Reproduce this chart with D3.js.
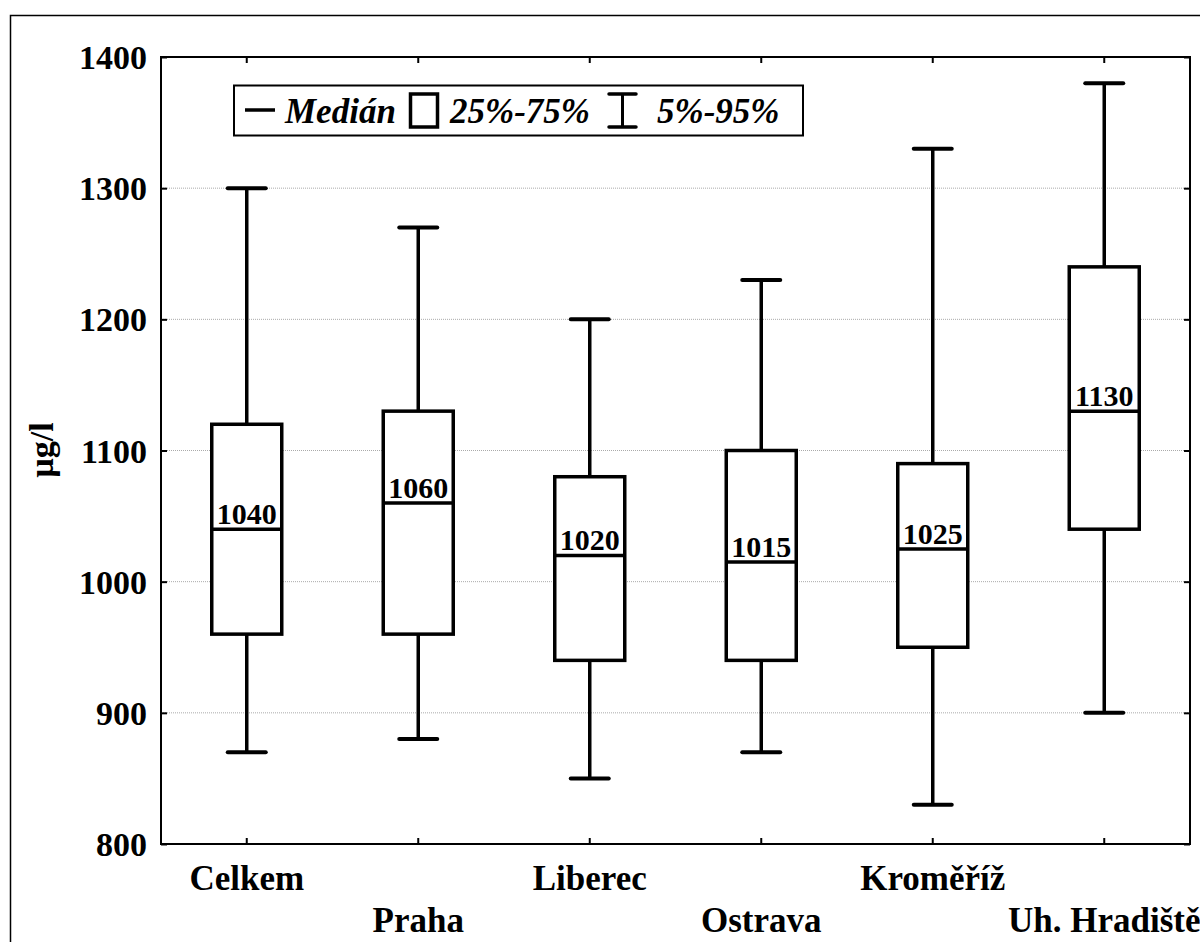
<!DOCTYPE html>
<html>
<head>
<meta charset="utf-8">
<script src="https://cdn.jsdelivr.net/npm/d3@7"></script>
<style>
  html, body { margin: 0; padding: 0; background: #fff; }
  svg { display: block; }
  text { font-family: "Liberation Serif", "Times New Roman", serif; font-weight: bold; fill: #000; }
</style>
</head>
<body>
<script>
// Iodine concentration by region: percentiles in µg/l
const categories = ["Celkem", "Praha", "Liberec", "Ostrava", "Kroměříž", "Uh. Hradiště"];
const p05    = [870, 880, 850, 870, 830, 900];
const p25    = [960, 960, 940, 940, 950, 1040];
const median = [1040, 1060, 1020, 1015, 1025, 1130];
const p75    = [1120, 1130, 1080, 1100, 1090, 1240];
const p95    = [1300, 1270, 1200, 1230, 1330, 1380];
const yTicks = [800, 900, 1000, 1100, 1200, 1300, 1400];
const legendLabels = ["Medián", "25%-75%", "5%-95%"];

const W = 1200, H = 942;
const plot = { left: 161, top: 57, right: 1190, bottom: 844 };
const serif = '"Liberation Serif", "Times New Roman", serif';

const svg = d3.select("body").append("svg").attr("width", W).attr("height", H);

// outer frame of the figure
svg.append("rect")
  .attr("x", 10.5).attr("y", 15.5)
  .attr("width", W + 20).attr("height", H + 20)
  .attr("fill", "none").attr("stroke", "#000").attr("stroke-width", 1.5);

const x = d3.scaleBand().domain(categories).range([plot.left, plot.right]).padding(0);
const y = d3.scaleLinear().domain([800, 1400]).range([plot.bottom, plot.top]);
const cx = c => x(c) + x.bandwidth() / 2;

const rows = categories.map((c, i) => ({
  cat: c, lo: p05[i], q1: p25[i], med: median[i], q3: p75[i], hi: p95[i]
}));

// dotted grid lines
svg.append("g").selectAll("line")
  .data(yTicks.filter(t => t > 800 && t < 1400))
  .join("line")
  .attr("x1", plot.left).attr("x2", plot.right)
  .attr("y1", d => y(d)).attr("y2", d => y(d))
  .attr("stroke", "#aaa").attr("stroke-width", 1).attr("stroke-dasharray", "1,1");

// left axis: inward ticks, labels outside
const leftAxis = d3.axisLeft(y).tickValues(yTicks).tickFormat(d3.format("d"))
  .tickSizeInner(-6).tickSizeOuter(0).tickPadding(14);
const gl = svg.append("g").attr("transform", `translate(${plot.left},0)`).call(leftAxis);
gl.select(".domain").remove();
gl.selectAll(".tick line").attr("stroke", "#000").attr("stroke-width", 2);
gl.selectAll(".tick text").style("font-size", "34px").attr("dy", "0.34em")
  .style("font-family", serif).style("font-weight", "bold");

// right axis: inward ticks only
const rightAxis = d3.axisRight(y).tickValues(yTicks).tickSizeInner(-6).tickSizeOuter(0).tickFormat("");
const gr = svg.append("g").attr("transform", `translate(${plot.right},0)`).call(rightAxis);
gr.select(".domain").remove();
gr.selectAll(".tick line").attr("stroke", "#000").attr("stroke-width", 2);

// top axis: inward ticks only
const topAxis = d3.axisTop(x).tickSizeInner(-6).tickSizeOuter(0).tickFormat("");
const gt = svg.append("g").attr("transform", `translate(0,${plot.top})`).call(topAxis);
gt.select(".domain").remove();
gt.selectAll(".tick line").attr("stroke", "#000").attr("stroke-width", 2);

// bottom axis: inward ticks, staggered category labels
const bottomAxis = d3.axisBottom(x).tickSizeInner(-6).tickSizeOuter(0).tickPadding(0);
const gb = svg.append("g").attr("transform", `translate(0,${plot.bottom})`).call(bottomAxis);
gb.select(".domain").remove();
gb.selectAll(".tick line").attr("stroke", "#000").attr("stroke-width", 2);
gb.selectAll(".tick text")
  .style("font-size", "35px")
  .style("font-family", serif).style("font-weight", "bold")
  .attr("dy", null)
  .attr("y", (d, i) => i % 2 === 0 ? 46 : 88);

// plot frame
svg.append("rect")
  .attr("x", plot.left).attr("y", plot.top)
  .attr("width", plot.right - plot.left).attr("height", plot.bottom - plot.top)
  .attr("fill", "none").attr("stroke", "#000").attr("stroke-width", 2);

// box plots
const boxW = 70, capW = 38, sw = 3.5;
const g = svg.append("g").selectAll("g").data(rows).join("g");

g.append("line")
  .attr("x1", d => cx(d.cat)).attr("x2", d => cx(d.cat))
  .attr("y1", d => y(d.lo)).attr("y2", d => y(d.hi))
  .attr("stroke", "#000").attr("stroke-width", sw);
g.append("line")
  .attr("x1", d => cx(d.cat) - capW / 2).attr("x2", d => cx(d.cat) + capW / 2)
  .attr("y1", d => y(d.lo)).attr("y2", d => y(d.lo))
  .attr("stroke", "#000").attr("stroke-width", 4).attr("stroke-linecap", "round");
g.append("line")
  .attr("x1", d => cx(d.cat) - capW / 2).attr("x2", d => cx(d.cat) + capW / 2)
  .attr("y1", d => y(d.hi)).attr("y2", d => y(d.hi))
  .attr("stroke", "#000").attr("stroke-width", 4).attr("stroke-linecap", "round");
g.append("rect")
  .attr("x", d => cx(d.cat) - boxW / 2).attr("width", boxW)
  .attr("y", d => y(d.q3)).attr("height", d => y(d.q1) - y(d.q3))
  .attr("fill", "#fff").attr("stroke", "#000").attr("stroke-width", sw);
g.append("line")
  .attr("x1", d => cx(d.cat) - boxW / 2).attr("x2", d => cx(d.cat) + boxW / 2)
  .attr("y1", d => y(d.med)).attr("y2", d => y(d.med))
  .attr("stroke", "#000").attr("stroke-width", sw);
g.append("text")
  .attr("x", d => cx(d.cat)).attr("y", d => y(d.med) - 5)
  .attr("text-anchor", "middle").style("font-size", "30px")
  .text(d => d.med);

// y axis title
svg.append("text")
  .attr("transform", "translate(53,450) rotate(-90)")
  .attr("text-anchor", "middle").style("font-size", "34px")
  .text("µg/l");

// legend
const lg = svg.append("g");
lg.append("rect").attr("x", 234).attr("y", 85.5).attr("width", 569).attr("height", 50)
  .attr("fill", "#fff").attr("stroke", "#000").attr("stroke-width", 2);
lg.append("line").attr("x1", 245).attr("x2", 275).attr("y1", 110).attr("y2", 110)
  .attr("stroke", "#000").attr("stroke-width", 3.5);
lg.append("rect").attr("x", 410.5).attr("y", 94).attr("width", 27).attr("height", 33)
  .attr("fill", "none").attr("stroke", "#000").attr("stroke-width", 3.5);
lg.append("line").attr("x1", 622.5).attr("x2", 622.5).attr("y1", 94).attr("y2", 127)
  .attr("stroke", "#000").attr("stroke-width", 3);
lg.append("line").attr("x1", 609).attr("x2", 636).attr("y1", 94).attr("y2", 94)
  .attr("stroke", "#000").attr("stroke-width", 3.5).attr("stroke-linecap", "round");
lg.append("line").attr("x1", 609).attr("x2", 636).attr("y1", 127).attr("y2", 127)
  .attr("stroke", "#000").attr("stroke-width", 3.5).attr("stroke-linecap", "round");
const legendX = [285, 450, 657];
lg.selectAll("text.lbl").data(legendLabels).join("text")
  .attr("class", "lbl")
  .attr("x", (d, i) => legendX[i]).attr("y", 123)
  .style("font-size", "35px").style("font-style", "italic")
  .text(d => d);
</script>
</body>
</html>
